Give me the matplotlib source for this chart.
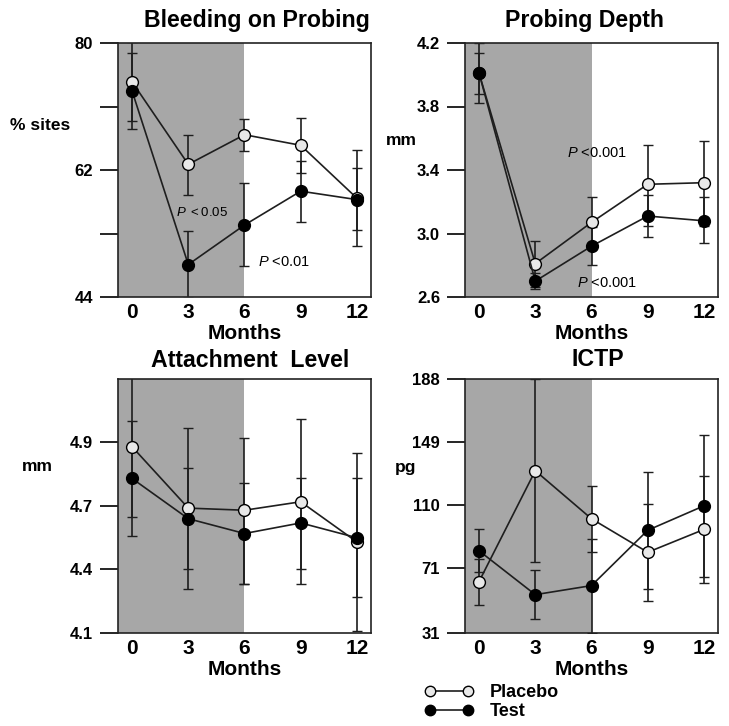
import matplotlib
matplotlib.use("Agg")
import matplotlib.pyplot as plt
import numpy as np

plt.rcParams["font.family"] = ["Liberation Sans", "DejaVu Sans"]
plt.rcParams["font.weight"] = "bold"
plt.rcParams["axes.labelweight"] = "bold"
plt.rcParams["mathtext.fontset"] = "custom"
plt.rcParams["mathtext.rm"] = "Liberation Sans:normal"
plt.rcParams["mathtext.it"] = "Liberation Sans:italic:normal"

months = [0, 3, 6, 9, 12]
month_labels = ["0", "3", "6", "9", "12"]

# Bleeding on probing (% sites)
bop_placebo = [74.5, 62.8, 67.0, 65.5, 58.0]
bop_placebo_lo = [68.9, 58.4, 64.7, 61.6, 51.2]
bop_placebo_hi = [80.1, 67.0, 69.2, 69.3, 64.9]
bop_test = [73.2, 48.6, 54.2, 59.0, 57.8]
bop_test_lo = [67.8, 43.8, 48.4, 54.6, 53.5]
bop_test_hi = [78.6, 53.4, 60.1, 63.3, 62.3]

# Probing depth (mm)
pd_placebo = [4.01, 2.81, 3.07, 3.31, 3.32]
pd_placebo_lo = [3.88, 2.66, 2.92, 3.05, 3.05]
pd_placebo_hi = [4.14, 2.95, 3.23, 3.56, 3.58]
pd_test = [4.01, 2.70, 2.92, 3.11, 3.08]
pd_test_lo = [3.82, 2.65, 2.80, 2.98, 2.94]
pd_test_hi = [4.20, 2.75, 3.04, 3.24, 3.23]

# Attachment level (mm)
al_placebo = [4.98, 4.69, 4.68, 4.72, 4.53]
al_placebo_lo = [4.65, 4.31, 4.33, 4.33, 4.11]
al_placebo_hi = [5.31, 5.07, 5.02, 5.11, 4.95]
al_test = [4.83, 4.64, 4.57, 4.62, 4.55]
al_test_lo = [4.56, 4.40, 4.33, 4.40, 4.27]
al_test_hi = [5.10, 4.88, 4.81, 4.83, 4.83]

# ICTP (pg)
ictp_placebo = [62.8, 131.3, 101.6, 80.9, 95.0]
ictp_placebo_lo = [48.5, 75.0, 81.2, 50.7, 61.8]
ictp_placebo_hi = [77.0, 188.0, 122.0, 111.0, 128.2]
ictp_test = [81.8, 54.7, 60.3, 94.5, 109.6]
ictp_test_lo = [68.4, 39.6, 31.0, 58.3, 65.7]
ictp_test_hi = [95.2, 69.8, 89.2, 130.4, 153.5]

line_col = "#1e1e1e"
shade_col = "#a7a7a7"
placebo_face = "#e8e8e8"

fig = plt.figure(figsize=(7.29, 7.26), dpi=100)
W, H = 729, 726


def add_ax(left, top):
    return fig.add_axes([left / W, 1 - (top + 254) / H, 253 / W, 254 / H])


def draw(ax, pl, pl_lo, pl_hi, te, te_lo, te_hi, ylim, yticks, ylabels,
         title, tx, ty, ylab, lx, ly):
    ax.axvspan(-0.75, 6, color=shade_col, lw=0, zorder=0)
    for val, lo, hi, face in [(pl, pl_lo, pl_hi, placebo_face),
                              (te, te_lo, te_hi, "black")]:
        val = np.array(val)
        yerr = [val - np.array(lo), np.array(hi) - val]
        ax.errorbar(months, val, yerr=yerr, fmt="-o", color=line_col,
                    ecolor=line_col, elinewidth=1.2, capsize=3.5,
                    capthick=1.2, lw=1.2, ms=8.5, mfc=face, mec="black",
                    mew=1.0)
    ax.set_xlim(-0.75, 12.75)
    ax.set_ylim(*ylim)
    ax.set_xticks(months)
    ax.set_xticklabels(month_labels)
    ax.set_yticks(yticks)
    ax.set_yticklabels(ylabels)
    ax.tick_params(axis="x", length=0, pad=4, labelsize=15)
    ax.tick_params(axis="y", direction="out", length=13, width=1.2, pad=5,
                   labelsize=12)
    for s in ax.spines.values():
        s.set_linewidth(1.2)
        s.set_color("#222222")
    ax.set_xlabel("Months", fontsize=15, fontweight="bold", labelpad=2)
    ax.text(tx, ty, title, transform=ax.transAxes, ha="center",
            va="baseline", fontsize=16.7)
    ax.text(lx, ly, ylab, transform=ax.transAxes, ha="center",
            va="center", fontsize=12.5)


ax1 = add_ax(118, 43)
draw(ax1, bop_placebo, bop_placebo_lo, bop_placebo_hi,
     bop_test, bop_test_lo, bop_test_hi,
     (44, 80), [44, 53, 62, 71, 80], ["44", "", "62", "", "80"],
     "Bleeding on Probing", 0.549, 1.063, "% sites", -0.308, 0.677)
ax1.text(2.35, 56.0, r"$\mathit{P\ <0.05}$", fontsize=9.5, va="center")
ax1.text(6.72, 49.0, r"$\mathit{P}$ <0.01", fontsize=10.5,
         fontweight="normal", va="center")

ax2 = add_ax(465, 43)
draw(ax2, pd_placebo, pd_placebo_lo, pd_placebo_hi,
     pd_test, pd_test_lo, pd_test_hi,
     (2.6, 4.2), [2.6, 3.0, 3.4, 3.8, 4.2], ["2.6", "3.0", "3.4", "3.8", "4.2"],
     "Probing Depth", 0.474, 1.063, "mm", -0.253, 0.618)
ax2.text(4.69, 3.51, r"$\mathit{P}$ <0.001", fontsize=10.5,
         fontweight="normal", va="center")
ax2.text(5.23, 2.69, r"$\mathit{P}$ <0.001", fontsize=10.5,
         fontweight="normal", va="center")

ax3 = add_ax(118, 379)
draw(ax3, al_placebo, al_placebo_lo, al_placebo_hi,
     al_test, al_test_lo, al_test_hi,
     (4.1, 5.3), [4.1, 4.4, 4.7, 5.0], ["4.1", "4.4", "4.7", "4.9"],
     "Attachment  Level", 0.522, 1.047, "mm", -0.318, 0.657)

ax4 = add_ax(465, 379)
draw(ax4, ictp_placebo, ictp_placebo_lo, ictp_placebo_hi,
     ictp_test, ictp_test_lo, ictp_test_hi,
     (31, 188), [31, 71, 110, 149, 188], ["31", "71", "110", "149", "188"],
     "ICTP", 0.526, 1.051, "pg", -0.233, 0.65)

h_pl = plt.Line2D([], [], color=line_col, lw=1.2, marker="o", ms=7.5,
                  mfc=placebo_face, mec="black", mew=1.0)
h_te = plt.Line2D([], [], color=line_col, lw=1.2, marker="o", ms=7.5,
                  mfc="black", mec="black", mew=1.0)
fig.legend([h_pl, h_te], ["Placebo", "Test"], loc="upper left",
           bbox_to_anchor=(425 / W, 1 - 684 / H), frameon=False,
           numpoints=2, handlelength=2.69, handletextpad=0.9,
           borderpad=0, borderaxespad=0, labelspacing=0.12,
           prop={"size": 13, "weight": "bold"})

fig.savefig("out.png", dpi=100)
